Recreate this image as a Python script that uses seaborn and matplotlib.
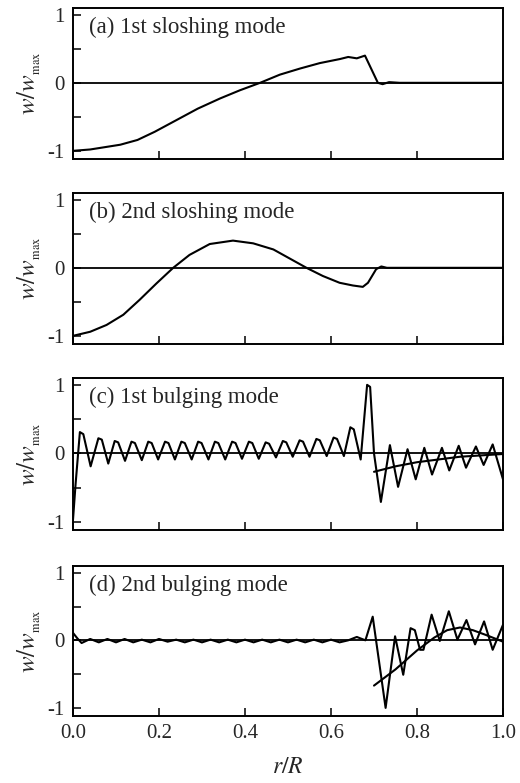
import numpy as np
import pandas as pd
import matplotlib
matplotlib.use("Agg")
import matplotlib.pyplot as plt
import seaborn as sns

# ---------------- data ----------------
r_a = [0, 0.04, 0.11, 0.15, 0.19, 0.24, 0.29, 0.342, 0.388, 0.435, 0.481, 0.528, 0.574, 0.621,
       0.640, 0.660, 0.679, 0.709, 0.72, 0.735, 0.76, 1.0]
w_a = [-1.0, -0.98, -0.91, -0.84, -0.72, -0.55, -0.38, -0.23, -0.11, 0.0, 0.12, 0.21, 0.29, 0.35,
       0.38, 0.36, 0.40, 0.0, -0.02, 0.01, 0.0, 0.0]

r_b = [0, 0.04, 0.078, 0.117, 0.155, 0.194, 0.233, 0.271, 0.318, 0.372, 0.419, 0.466, 0.543, 0.581,
       0.62, 0.651, 0.674, 0.686, 0.705, 0.717, 0.73, 1.0]
w_b = [-1.0, -0.94, -0.84, -0.69, -0.47, -0.23, 0.0, 0.19, 0.35, 0.40, 0.36, 0.27, 0.0, -0.12,
       -0.22, -0.26, -0.28, -0.22, -0.02, 0.02, 0.0, 0.0]

r_c = [0.0, 0.006, 0.016, 0.024, 0.041,
       0.059, 0.067, 0.082, 0.097, 0.105, 0.121, 0.136, 0.144, 0.160, 0.175, 0.183, 0.198,
       0.214, 0.222, 0.237, 0.252, 0.260, 0.276, 0.291, 0.299, 0.315, 0.330, 0.338, 0.354,
       0.370, 0.378, 0.393, 0.409, 0.417, 0.432, 0.448, 0.456, 0.472, 0.488, 0.496, 0.511,
       0.527, 0.535, 0.550, 0.566, 0.574, 0.590, 0.606, 0.614, 0.630, 0.645, 0.653, 0.669,
       0.684, 0.691, 0.700, 0.716, 0.737, 0.756, 0.778, 0.797, 0.817, 0.835, 0.858, 0.875,
       0.897, 0.914, 0.937, 0.955, 0.976, 1.0]
w_c = [-0.97, -0.45, 0.31, 0.28, -0.19,
       0.22, 0.20, -0.15, 0.18, 0.16, -0.11, 0.17, 0.15, -0.10, 0.17, 0.15, -0.09,
       0.17, 0.15, -0.09, 0.17, 0.15, -0.09, 0.17, 0.15, -0.09, 0.17, 0.15, -0.09,
       0.17, 0.15, -0.08, 0.17, 0.15, -0.08, 0.16, 0.14, -0.06, 0.18, 0.16, -0.05,
       0.19, 0.17, -0.05, 0.21, 0.19, -0.04, 0.23, 0.21, -0.04, 0.38, 0.35, -0.09,
       1.0, 0.97, 0.0, -0.71, 0.12, -0.49, 0.06, -0.38, 0.08, -0.31, 0.08, -0.25,
       0.11, -0.21, 0.10, -0.17, 0.13, -0.38]
r_c_fit = [0.70, 0.75, 0.80, 0.85, 0.90, 0.95, 1.0]
w_c_fit = [-0.27, -0.19, -0.13, -0.09, -0.05, -0.03, -0.01]

r_d = [0.0, 0.01, 0.02, 0.04, 0.06, 0.08, 0.10, 0.12, 0.14, 0.16, 0.18, 0.20, 0.22, 0.24, 0.26, 0.28,
       0.30, 0.32, 0.34, 0.36, 0.38, 0.40, 0.42, 0.44, 0.46, 0.48, 0.50, 0.52, 0.54, 0.56, 0.58, 0.60,
       0.62, 0.64, 0.66, 0.68, 0.697, 0.727, 0.749, 0.768, 0.785, 0.795, 0.807, 0.815, 0.834, 0.853,
       0.874, 0.894, 0.915, 0.935, 0.956, 0.976, 1.0]
w_d = [0.11, 0.03, -0.04, 0.02, -0.03, 0.02, -0.03, 0.02, -0.03, 0.01, -0.03, 0.02, -0.02, 0.01, -0.03, 0.01,
       -0.03, 0.01, -0.03, 0.01, -0.03, 0.01, -0.03, 0.01, -0.03, 0.01, -0.03, 0.01, -0.03, 0.01, -0.03, 0.01,
       -0.03, 0.0, 0.05, 0.0, 0.35, -1.0, 0.06, -0.51, 0.18, 0.15, -0.14, -0.14, 0.38, -0.01,
       0.43, 0.01, 0.30, -0.06, 0.28, -0.14, 0.23]
r_d_fit = [0.70, 0.75, 0.80, 0.84, 0.87, 0.90, 0.93, 0.96, 1.0]
w_d_fit = [-0.67, -0.43, -0.15, 0.04, 0.15, 0.19, 0.15, 0.08, -0.02]

panel_titles = ["(a) 1st sloshing mode", "(b) 2nd sloshing mode",
                "(c) 1st bulging mode", "(d) 2nd bulging mode"]
x_ticks = [0.0, 0.2, 0.4, 0.6, 0.8, 1.0]
x_ticklabels = ["0.0", "0.2", "0.4", "0.6", "0.8", "1.0"]
y_ticks = [-1, -0.5, 0, 0.5, 1]
y_ticklabels = ["-1", "", "0", "", "1"]

# ---------------- style ----------------
sns.set_style("ticks")
plt.rcParams["font.family"] = ["Liberation Serif", "DejaVu Serif"]
plt.rcParams["mathtext.fontset"] = "stix"
plt.rcParams["axes.unicode_minus"] = False

W, H = 520, 783
fig = plt.figure(figsize=(W / 100, H / 100), dpi=100)

panel_px = [(8, 159), (193, 344), (378, 530), (566, 716)]
left_px, right_px = 73, 503

curves = [
    [(r_a, w_a)],
    [(r_b, w_b)],
    [(r_c, w_c), (r_c_fit, w_c_fit)],
    [(r_d, w_d), (r_d_fit, w_d_fit)],
]

for i, (top, bot) in enumerate(panel_px):
    ax = fig.add_axes([left_px / W, 1 - bot / H, (right_px - left_px) / W, (bot - top) / H])
    ax.axhline(0, color="black", lw=1.3, zorder=1)
    for xs, ys in curves[i]:
        df = pd.DataFrame({"r": xs, "w": ys})
        sns.lineplot(data=df, x="r", y="w", ax=ax, color="black", lw=1.5,
                     estimator=None, sort=False, zorder=2)
    ax.set_xlim(0, 1)
    ax.set_ylim(-1.12, 1.10)
    ax.set_yticks(y_ticks)
    ax.set_yticklabels(y_ticklabels, fontsize=15)
    ax.set_xticks(x_ticks)
    if i == 3:
        ax.set_xticklabels(x_ticklabels, fontsize=15)
        ax.set_xlabel(r"$r/R$", fontsize=17, labelpad=10)
    else:
        ax.set_xticklabels([])
        ax.set_xlabel("")
    ax.tick_params(axis="both", direction="in", length=6, width=1.1, color="black",
                   top=False, right=False, pad=6)
    ax.set_ylabel(r"$w/w_{{}_{\mathrm{max}}}$", fontsize=18, labelpad=3)
    for s in ax.spines.values():
        s.set_linewidth(1.4)
        s.set_color("black")
    ax.text(0.037, 0.87, panel_titles[i], transform=ax.transAxes, fontsize=16.5,
            va="center", ha="left")
    ax.grid(False)

fig.savefig("out.png", dpi=100)
